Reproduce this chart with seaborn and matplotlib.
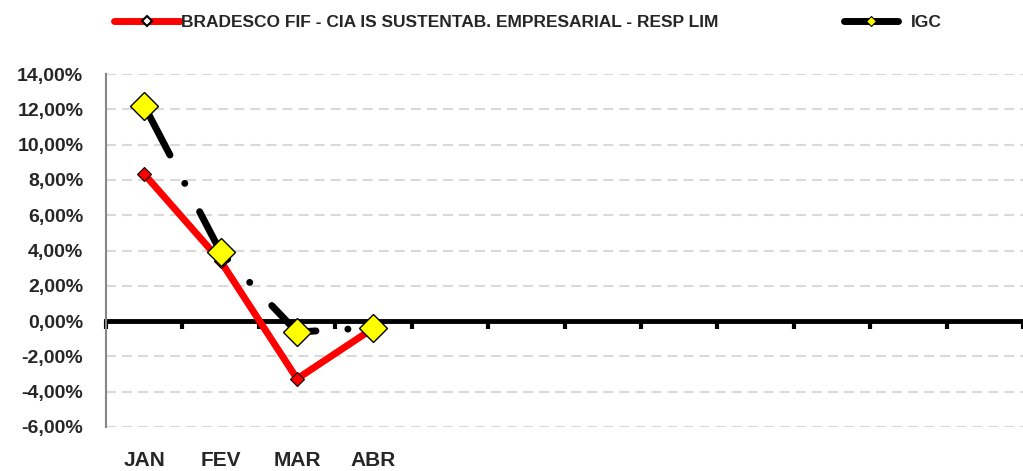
import pandas as pd
import numpy as np
import matplotlib.pyplot as plt
import seaborn as sns
from matplotlib.lines import Line2D
from matplotlib.ticker import FuncFormatter

# dados
meses = ['JAN', 'FEV', 'MAR', 'ABR', '', '', '', '', '', '', '', '']
fundo = [8.33, 3.40, -3.27, -0.40]
igc = [12.20, 3.92, -0.62, -0.37]
nome_fundo = 'BRADESCO FIF - CIA IS SUSTENTAB. EMPRESARIAL - RESP LIM'
nome_igc = 'IGC'

sns.set_style('white')
plt.rcParams['font.family'] = ['Liberation Sans', 'DejaVu Sans']
plt.rcParams['font.weight'] = 'bold'

df = pd.DataFrame({'pos': range(len(fundo)), 'fundo': fundo, 'igc': igc})

fig = plt.figure(figsize=(10.23, 4.71), dpi=100)
ax = fig.add_axes([106 / 1023, 1 - 427 / 471, 1 - 106 / 1023, (427 - 74) / 471])

sns.lineplot(data=df, x='pos', y='fundo', ax=ax, color='#ff0000', linewidth=5,
             marker='D', markersize=7, markerfacecolor='#ff0000', markeredgecolor='black',
             markeredgewidth=0.8, zorder=3)
sns.lineplot(data=df, x='pos', y='igc', ax=ax, color='black', linewidth=5,
             marker='D', markersize=14, markerfacecolor='#ffff00', markeredgecolor='black',
             markeredgewidth=1.0, zorder=4)
ln = ax.lines[-1]
ln.set_linestyle((0, (8.0, 4.6, 0.01, 4.6)))
ln.set_dash_capstyle('round')
ax.lines[0].set_solid_capstyle('round')

ax.set_xlim(-0.5, 11.5)
ax.set_ylim(-6, 14)
ax.set_yticks(np.arange(-6, 15, 2))
ax.yaxis.set_major_formatter(FuncFormatter(lambda v, p: f'{v:.2f}%'.replace('.', ',')))
ax.set_xticks(range(12))
ax.set_xticklabels(meses)
ax.tick_params(axis='x', length=0, pad=17, labelsize=15)
ax.tick_params(axis='y', direction='out', length=5.8, width=1.5, color='#868686',
               labelsize=14, pad=10.5)
for t in ax.get_xticklabels() + ax.get_yticklabels():
    t.set_fontweight('bold')
ax.set_xlabel('')
ax.set_ylabel('')
ax.yaxis.grid(True, color='#d9d9d9', linestyle=(0, (4.8, 2.9)), linewidth=1.5)
for s in ['top', 'right', 'bottom']:
    ax.spines[s].set_visible(False)
ax.spines['left'].set_color('#868686')
ax.spines['left'].set_linewidth(1.5)

# eixo no zero
sec = ax.secondary_xaxis(6 / 20)
sec.set_xticks(np.arange(-0.5, 12, 1))
sec.set_xticklabels([])
sec.tick_params(direction='out', length=6, width=3, color='black')
sec.spines['bottom'].set_linewidth(3.5)
sec.spines['bottom'].set_color('black')
sec.set_zorder(2)

h1 = Line2D([], [], color='#ff0000', lw=5, marker='D', markersize=5.5,
            markerfacecolor='white', markeredgecolor='black', markeredgewidth=1.5,
            solid_capstyle='round')
h2 = Line2D([], [], color='black', lw=5, marker='D', markersize=5.5,
            markerfacecolor='#ffff00', markeredgecolor='black', markeredgewidth=0.8,
            solid_capstyle='round')
fig.legend([h1], [nome_fundo], loc='center left', bbox_to_anchor=(113.5 / 1023, 1 - 22 / 471),
           frameon=False, handlelength=3.85, handletextpad=0.05, borderpad=0,
           borderaxespad=0, prop={'weight': 'bold', 'size': 12.5})
fig.legend([h2], [nome_igc], loc='center left', bbox_to_anchor=(843.5 / 1023, 1 - 22 / 471),
           frameon=False, handlelength=3.16, handletextpad=0.72, borderpad=0,
           borderaxespad=0, prop={'weight': 'bold', 'size': 12.5})

fig.savefig('out.png', dpi=100)
